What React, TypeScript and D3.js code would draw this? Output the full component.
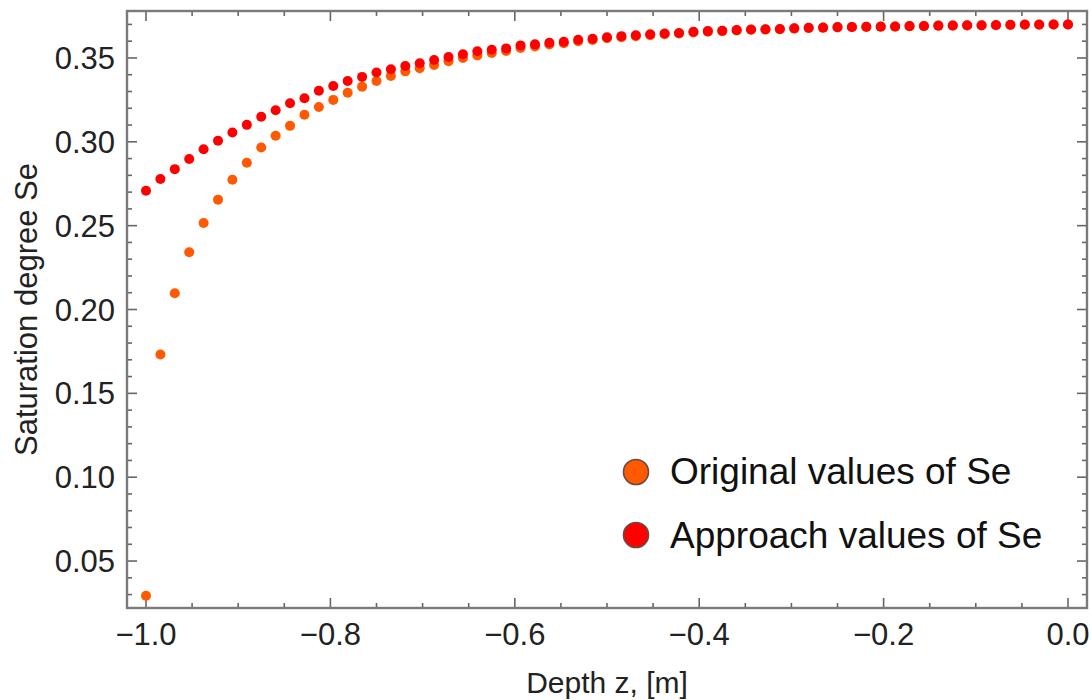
import React from "react";
import * as d3 from "d3";

// ---------- data ----------
const depth = [
  -1, -0.984375, -0.96875, -0.953125, -0.9375, -0.921875, -0.90625, -0.890625,
  -0.875, -0.859375, -0.84375, -0.828125, -0.8125, -0.796875, -0.78125, -0.765625,
  -0.75, -0.734375, -0.71875, -0.703125, -0.6875, -0.671875, -0.65625, -0.640625,
  -0.625, -0.609375, -0.59375, -0.578125, -0.5625, -0.546875, -0.53125, -0.515625,
  -0.5, -0.484375, -0.46875, -0.453125, -0.4375, -0.421875, -0.40625, -0.390625,
  -0.375, -0.359375, -0.34375, -0.328125, -0.3125, -0.296875, -0.28125, -0.265625,
  -0.25, -0.234375, -0.21875, -0.203125, -0.1875, -0.171875, -0.15625, -0.140625,
  -0.125, -0.109375, -0.09375, -0.078125, -0.0625, -0.046875, -0.03125, -0.015625,
  0,
];

const originalSe = [
  0.0293, 0.1732, 0.2097, 0.2341, 0.2516, 0.2655, 0.2774, 0.2875,
  0.2966, 0.3036, 0.3095, 0.3161, 0.3208, 0.325, 0.3293, 0.3329,
  0.3363, 0.3393, 0.342, 0.3439, 0.3458, 0.348, 0.35, 0.3515,
  0.353, 0.3542, 0.356, 0.3568, 0.358, 0.3588, 0.36, 0.3607,
  0.3617, 0.3624, 0.363, 0.3636, 0.3642, 0.3646, 0.3652, 0.3657,
  0.366, 0.3664, 0.3668, 0.3669, 0.3671, 0.3675, 0.3678, 0.368,
  0.3682, 0.3684, 0.3685, 0.3686, 0.3687, 0.3689, 0.369, 0.3692,
  0.3693, 0.3694, 0.3694, 0.3695, 0.3697, 0.3698, 0.3698, 0.3699,
  0.3699,
];

const approachSe = [
  0.2708, 0.2778, 0.2837, 0.2897, 0.2956, 0.3006, 0.3055, 0.3101,
  0.3149, 0.3188, 0.323, 0.326, 0.3304, 0.3333, 0.3363, 0.3387,
  0.3413, 0.3433, 0.3452, 0.3468, 0.3488, 0.3506, 0.3522, 0.354,
  0.3549, 0.3557, 0.3575, 0.3581, 0.3591, 0.3597, 0.3609, 0.3615,
  0.3624, 0.363, 0.3635, 0.3641, 0.3646, 0.3649, 0.3656, 0.366,
  0.3662, 0.3666, 0.367, 0.3671, 0.3673, 0.3677, 0.368, 0.3681,
  0.3684, 0.3685, 0.3686, 0.3687, 0.3688, 0.369, 0.3691, 0.3693,
  0.3694, 0.3695, 0.3695, 0.3696, 0.3698, 0.3699, 0.3699, 0.37,
  0.37,
];

const xMajorTicks = [-1.0, -0.8, -0.6, -0.4, -0.2, 0.0];
const yMajorTicks = [0.05, 0.1, 0.15, 0.2, 0.25, 0.3, 0.35];
const xLabel = "Depth z, [m]";
const yLabel = "Saturation degree Se";
const legendLabels = ["Original values of Se", "Approach values of Se"];
const seriesColors = ["#FF5A00", "#FF0000"];

// ---------- layout ----------
const W = 1091;
const H = 700;
const frame = { left: 127, right: 1087, top: 11, bottom: 608 };
const FONT = "'Liberation Sans', Arial, Helvetica, sans-serif";

export default function App() {
  const x = d3
    .scaleLinear()
    .domain([-1.0206, 0.0206])
    .range([frame.left, frame.right]);
  const y = d3
    .scaleLinear()
    .domain([0.022, 0.378])
    .range([frame.bottom, frame.top]);

  const xMinor = x.ticks(20);
  const yMinor = y.ticks(35);
  const fx = d3.format(".1f");
  const fy = d3.format(".2f");

  const isMajor = (v: number, majors: number[]) =>
    majors.some((m) => Math.abs(m - v) < 1e-9);

  const majorLen = 10;
  const minorLen = 5;
  const tickColor = "#666";

  const series = [originalSe, approachSe];

  return (
    <svg
      width={W}
      height={H}
      style={{ position: "absolute", left: 0, top: 0, background: "#fff" }}
    >
      <rect x={0} y={0} width={W} height={H} fill="#fff" />

      {/* ticks bottom & top */}
      {xMinor.map((v, i) => {
        const len = isMajor(v, xMajorTicks) ? majorLen : minorLen;
        const px = x(v);
        return (
          <g key={"xt" + i} stroke={tickColor} strokeWidth={1.6}>
            <line x1={px} x2={px} y1={frame.bottom} y2={frame.bottom - len} />
            <line x1={px} x2={px} y1={frame.top} y2={frame.top + len} />
          </g>
        );
      })}
      {/* ticks left & right */}
      {yMinor.map((v, i) => {
        const len = isMajor(v, yMajorTicks) ? majorLen : minorLen;
        const py = y(v);
        return (
          <g key={"yt" + i} stroke={tickColor} strokeWidth={1.6}>
            <line x1={frame.left} x2={frame.left + len} y1={py} y2={py} />
            <line x1={frame.right} x2={frame.right - len} y1={py} y2={py} />
          </g>
        );
      })}

      {/* frame */}
      <rect
        x={frame.left}
        y={frame.top}
        width={frame.right - frame.left}
        height={frame.bottom - frame.top}
        fill="none"
        stroke="#7a7a7a"
        strokeWidth={2.4}
      />

      {/* tick labels */}
      {xMajorTicks.map((v, i) => (
        <text
          key={"xl" + i}
          x={x(v)}
          y={645}
          textAnchor="middle"
          fontFamily={FONT}
          fontSize={31}
          fill="#222"
        >
          {fx(v)}
        </text>
      ))}
      {yMajorTicks.map((v, i) => (
        <text
          key={"yl" + i}
          x={115}
          y={y(v) + 11}
          textAnchor="end"
          fontFamily={FONT}
          fontSize={31}
          fill="#222"
        >
          {fy(v)}
        </text>
      ))}

      {/* axis labels */}
      <text
        x={(frame.left + frame.right) / 2}
        y={693}
        textAnchor="middle"
        fontFamily={FONT}
        fontSize={30}
        fill="#222"
      >
        {xLabel}
      </text>
      <text
        transform={`translate(37, ${(frame.top + frame.bottom) / 2}) rotate(-90)`}
        textAnchor="middle"
        fontFamily={FONT}
        fontSize={31}
        fill="#222"
      >
        {yLabel}
      </text>

      {/* points */}
      {series.map((s, si) => (
        <g key={"s" + si} fill={seriesColors[si]}>
          {s.map((v, i) => (
            <circle key={i} cx={x(depth[i])} cy={y(v)} r={5} />
          ))}
        </g>
      ))}

      {/* legend */}
      {legendLabels.map((lab, i) => (
        <g key={"lg" + i}>
          <circle
            cx={636}
            cy={472 + i * 63}
            r={12.5}
            fill={seriesColors[i]}
            stroke="#6a4a40"
            strokeWidth={1.6}
          />
          <text
            x={670}
            y={484 + i * 64}
            fontFamily={FONT}
            fontSize={37}
            fill="#111"
          >
            {lab}
          </text>
        </g>
      ))}
    </svg>
  );
}
